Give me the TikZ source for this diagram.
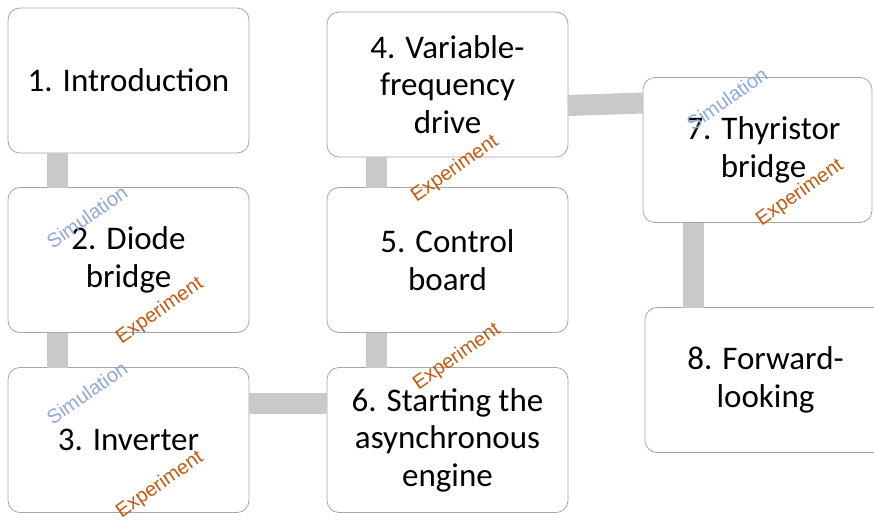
\documentclass[tikz,border=0pt]{standalone}
\usepackage{fontspec}
\setmainfont{Carlito}
\newfontfamily\labfont{Liberation Sans}
\definecolor{boxline}{HTML}{A6A6A6}
\definecolor{barcol}{HTML}{C9C9C9}
\definecolor{simcol}{HTML}{8EA9DB}
\definecolor{expcol}{HTML}{C55A11}
\begin{document}
\begin{tikzpicture}[x=1pt,y=-1pt,
  stagebox/.style={draw=boxline, line width=0.8pt, fill=white, rounded corners=12pt,
    minimum width=241pt, minimum height=145pt, inner sep=0pt, outer sep=0pt,
    align=center, font=\fontsize{33}{37.5}\selectfont},
  cutbox/.style={minimum width=241pt, minimum height=145pt, inner sep=0pt, outer sep=0pt,
    align=center, font=\fontsize{33}{37.5}\selectfont},
  cutline/.style={draw=boxline, line width=0.8pt, rounded corners=12pt},
  bar/.style={draw=barcol, line width=21pt, line cap=butt},
  simlabel/.style={text=simcol, rotate=35, font=\labfont\fontsize{20}{22}\selectfont, inner sep=0pt},
  explabel/.style={text=expcol, rotate=35, font=\labfont\fontsize{20}{22}\selectfont, inner sep=0pt}]
\useasboundingbox (0,0) rectangle (874,520);
\node[stagebox] (b1) at (128.5,80.5) {1. Introduction};
\node[stagebox] (b2) at (128.5,260) {2. Diode\\bridge};
\node[stagebox] (b3) at (128.5,440) {3. Inverter};
\node[stagebox] (b4) at (447.5,84.5) {4. Variable-\\frequency\\drive};
\node[stagebox] (b5) at (447.5,260) {5. Control\\board};
\node[stagebox] (b6) at (447.5,440) {6. Starting the\\asynchronous\\engine};
\node[cutbox] (b7) at (763.5,150) {7. Thyristor\\bridge};
\node[cutbox] (b8) at (765.5,380) {8. Forward-\\looking};
\draw[cutline] (b7.north west) rectangle ([xshift=-12pt]b7.south east);
\draw[cutline] ([xshift=30pt]b8.north east) -- (b8.north west) -- (b8.south west) -- ([xshift=30pt]b8.south east);

\draw[bar] ([xshift=49.5pt]b1.south west) -- ([xshift=49.5pt]b2.north west);
\draw[bar] ([xshift=49.5pt]b2.south west) -- ([xshift=49.5pt]b3.north west);
\draw[bar] ([xshift=49.5pt]b4.south west) -- ([xshift=49.5pt]b5.north west);
\draw[bar] ([xshift=49.5pt]b5.south west) -- ([xshift=49.5pt]b6.north west);
\draw[bar] ([xshift=50pt]b7.south west) -- ([xshift=48pt]b8.north west);
\draw[bar] ([yshift=37pt]b3.east) -- ([yshift=37pt]b6.west);
\draw[bar] ([yshift=-21pt]b4.east) -- ([yshift=47pt]b7.west);

\node[simlabel] (s2) at (87,217) {Simulation};
\node[explabel] (e2) at (160,311) {Experiment};
\node[simlabel] (s3) at (87,393) {Simulation};
\node[explabel] (e3) at (160,485) {Experiment};
\node[explabel] (e4) at (455,169) {Experiment};
\node[explabel] (e6) at (457,357) {Experiment};
\node[simlabel] (s7) at (727,99) {Simulation};
\node[explabel] (e7) at (800,193) {Experiment};
\end{tikzpicture}
\end{document}
